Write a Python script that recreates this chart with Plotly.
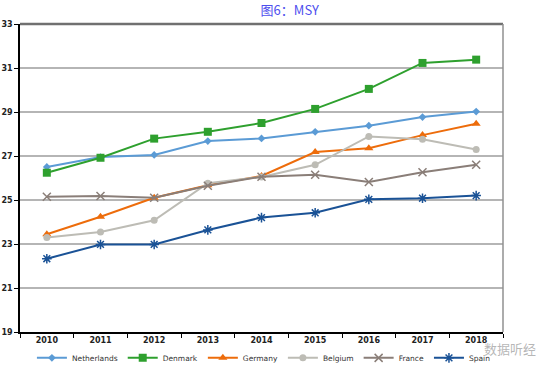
import plotly.graph_objects as go

years = ["2010", "2011", "2012", "2013", "2014", "2015", "2016", "2017", "2018"]
netherlands = [26.5, 26.95, 27.05, 27.68, 27.8, 28.1, 28.38, 28.77, 29.02]
denmark = [26.24, 26.92, 27.79, 28.1, 28.5, 29.14, 30.05, 31.23, 31.38]
germany = [23.44, 24.24, 25.1, 25.67, 26.09, 27.18, 27.35, 27.95, 28.47]
belgium = [23.3, 23.55, 24.08, 25.76, 26.05, 26.6, 27.89, 27.76, 27.3]
france = [25.15, 25.18, 25.1, 25.65, 26.06, 26.15, 25.82, 26.26, 26.6]
spain = [22.33, 22.98, 22.98, 23.64, 24.2, 24.42, 25.03, 25.08, 25.2]
y_ticks = [19, 21, 23, 25, 27, 29, 31, 33]

series = [
    ("Netherlands", netherlands, "#5b9bd5", "diamond", 6, 0),
    ("Denmark", denmark, "#2ea02e", "square", 8, 0),
    ("Germany", germany, "#ed6c0b", "triangle-up", 8, 0),
    ("Belgium", belgium, "#bdbcb5", "circle", 7, 0),
    ("France", france, "#8a7e78", "x-thin-open", 8, 1.5),
    ("Spain", spain, "#1a5296", "asterisk-open", 8, 1.5),
]

fig = go.Figure()
for name, vals, color, sym, size, lw in series:
    marker = dict(symbol=sym, size=size, color=color)
    if lw:
        marker["line"] = dict(color=color, width=lw)
    fig.add_trace(go.Scatter(
        x=years, y=vals, name=name, mode="lines+markers",
        line=dict(color=color, width=2), marker=marker,
    ))

tickfont = dict(family="DejaVu Sans", size=8, color="#222222", weight="bold")

fig.update_layout(
    width=554, height=375,
    margin=dict(l=20, r=51, t=24, b=43, autoexpand=False),
    paper_bgcolor="white", plot_bgcolor="white",
    font=dict(family="DejaVu Sans", size=8, color="#333333"),
    title=dict(text="图6：MSY", x=0.523, xanchor="center", y=0.973, yanchor="middle",
               font=dict(family="Noto Sans CJK SC", size=13, color="#4f4fee")),
    showlegend=True,
    legend=dict(orientation="h", x=0.505, xanchor="center", y=-0.084, yanchor="middle",
                font=dict(family="DejaVu Sans", size=7.5, color="#333333"),
                itemwidth=30, tracegroupgap=0, bgcolor="rgba(0,0,0,0)"),
    xaxis=dict(type="category", tickson="boundaries", ticks="outside", ticklen=4,
               tickcolor="#000000", showline=True, linecolor="#000000", linewidth=1.5,
               showgrid=False, tickfont=tickfont, range=[-0.5, 8.5], automargin=False),
    yaxis=dict(range=[19, 33], tickvals=y_ticks, ticks="outside", ticklen=4,
               tickcolor="#000000", showline=True, linecolor="#000000", linewidth=1.5,
               showgrid=True, gridcolor="#b5b5b5", gridwidth=1.5, zeroline=False,
               tickfont=tickfont, automargin=False),
)

fig.add_shape(type="line", xref="paper", yref="paper", x0=0, x1=1, y0=1, y1=1,
              line=dict(color="#707070", width=2.5))
fig.add_shape(type="line", xref="paper", yref="paper", x0=1, x1=1, y0=0, y1=1,
              line=dict(color="#909090", width=1.5))

fig.add_annotation(text="数据听经", xref="paper", yref="paper", x=1.015, y=-0.055,
                   xanchor="center", yanchor="middle", showarrow=False,
                   font=dict(family="Noto Sans CJK SC", size=13, color="rgba(120,120,120,0.55)"))

fig.write_html("out.html", config={"displayModeBar": False},
               post_script="document.body.style.margin='0';")
